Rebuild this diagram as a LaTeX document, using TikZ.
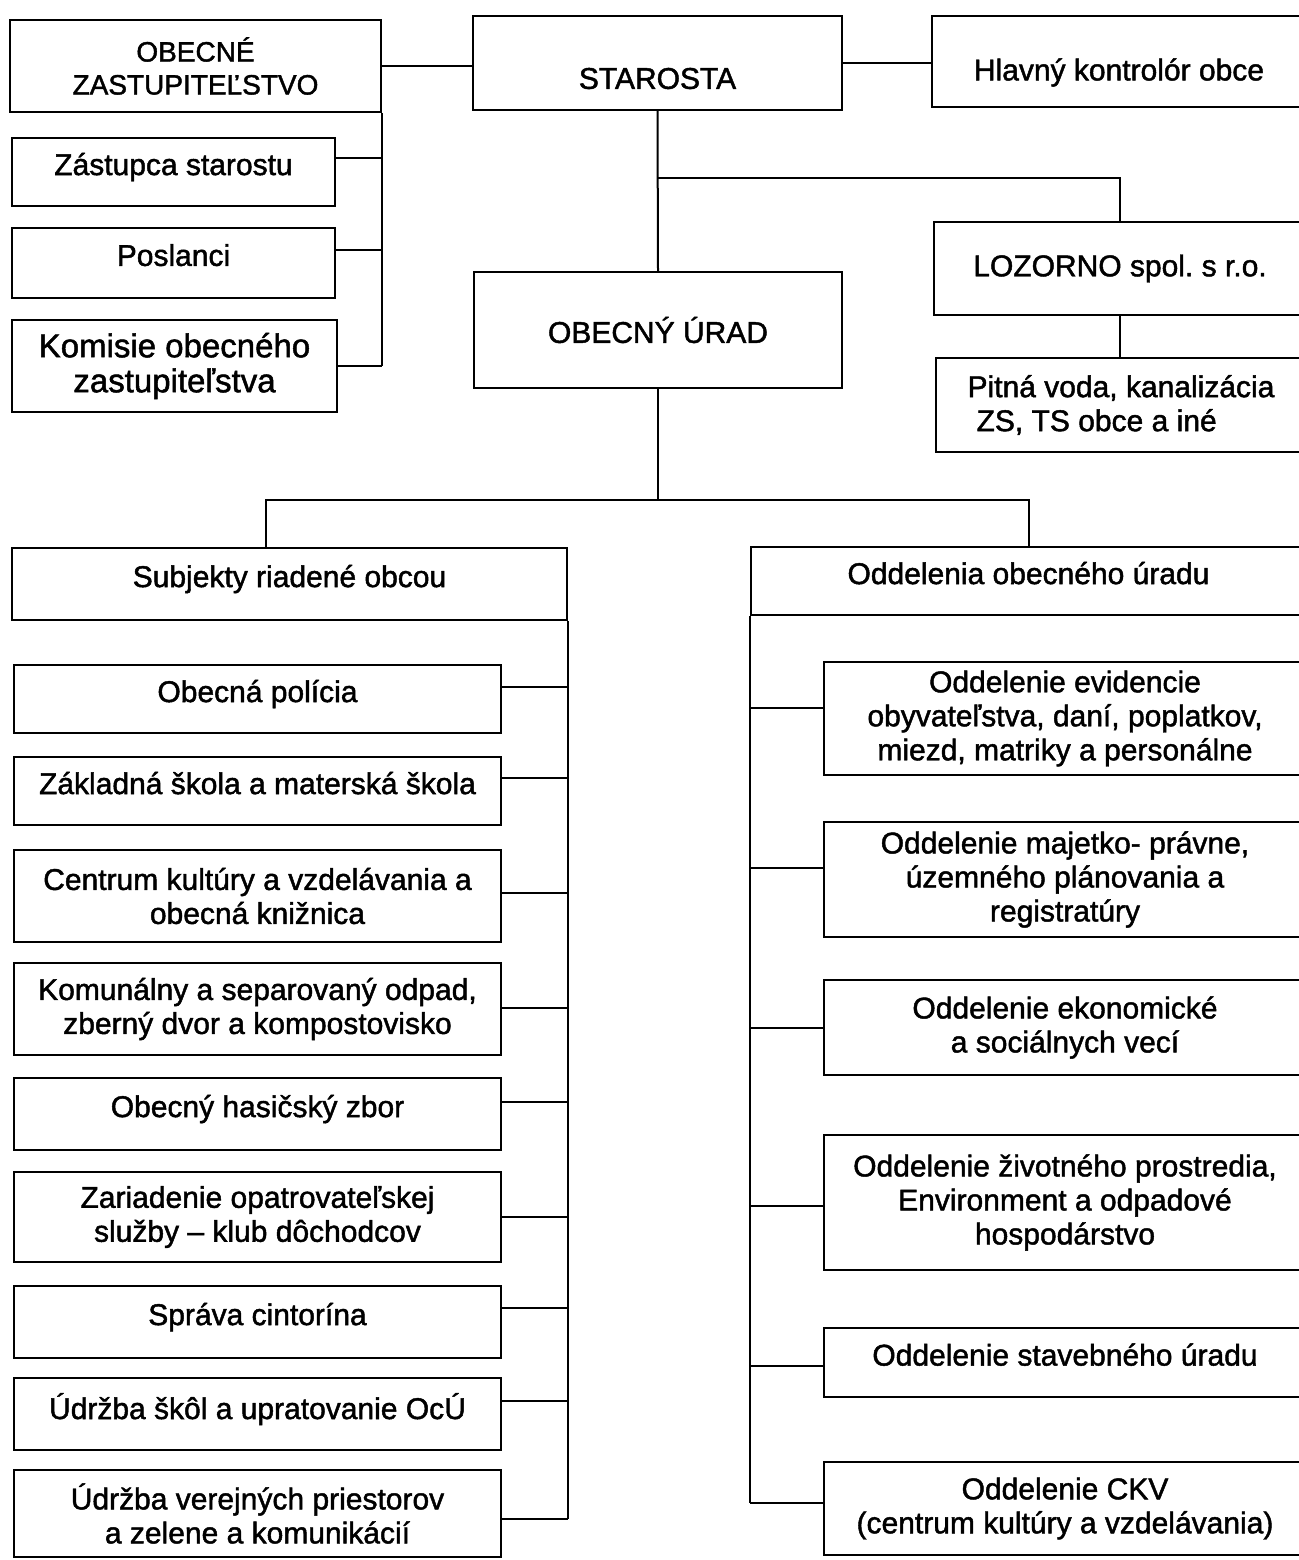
\documentclass[tikz,border=0pt]{standalone}
\usepackage{fontspec}
\setmainfont{Liberation Sans}[FakeBold=1.5]
\usetikzlibrary{positioning}

\begin{document}
\begin{tikzpicture}[x=1pt, y=-1pt,
    box/.style={draw, line width=2pt, inner sep=0pt, align=center,
                font=\fontsize{30}{34}\selectfont},
    lift/.style={text depth=16pt},
    wire/.style={line width=2pt}
  ]
    \useasboundingbox (0,0) rectangle (1298,1560);

    % top level
    \node[box, minimum width=371pt, minimum height=92pt,
          font=\fontsize{28}{33}\selectfont] (zast) at (195.5,66) {OBECNÉ\\ZASTUPITEĽSTVO};
    \node[box, minimum width=369pt, minimum height=94pt, text height=52pt] (star) at (657.5,63) {STAROSTA};
    \node[box, minimum width=374pt, minimum height=91pt, text height=44pt] (kontr) at (1119,61.5) {Hlavný kontrolór obce};

    \node[box, lift, minimum width=323pt, minimum height=68pt] (zast1) at (173.5,172) {Zástupca starostu};
    \node[box, lift, minimum width=323pt, minimum height=70pt] (posl) at (173.5,263) {Poslanci};
    \node[box, minimum width=325pt, minimum height=92pt,
          font=\fontsize{33}{35}\selectfont] (komis) at (174.5,366) {Komisie obecného\\zastupiteľstva};

    \node[box, minimum width=368pt, minimum height=116pt] (urad) at (658,330) {OBECNÝ ÚRAD};
    \node[box, minimum width=372pt, minimum height=93pt] (lozor) at (1120,268.5) {LOZORNO spol.\ s r.o.};
    \node[box, minimum width=370pt, minimum height=94pt, align=left] (pitna) at (1121,405)
      {Pitná voda, kanalizácia\\\hspace*{9pt}ZS, TS obce a iné};

    % two branches
    \node[box, lift, minimum width=555pt, minimum height=72pt] (subj) at (289.5,584) {Subjekty riadené obcou};
    \node[box, lift, minimum width=555pt, minimum height=68pt] (oddel) at (1028.5,581) {Oddelenia obecného úradu};

    \node[box, lift, minimum width=487pt, minimum height=68pt] (pol) at (257.5,699) {Obecná polícia};
    \node[box, lift, minimum width=487pt, minimum height=68pt] (zs) at (257.5,791) {Základná škola a materská škola};
    \node[box, minimum width=487pt, minimum height=92pt] (kniz) at (257.5,896) {Centrum kultúry a vzdelávania a\\obecná knižnica};
    \node[box, minimum width=487pt, minimum height=92pt] (odpad) at (257.5,1009) {Komunálny a separovaný odpad,\\zberný dvor a kompostovisko};
    \node[box, lift, minimum width=487pt, minimum height=72pt] (hasic) at (257.5,1114) {Obecný hasičský zbor};
    \node[box, minimum width=487pt, minimum height=90pt] (zopat) at (257.5,1217) {Zariadenie opatrovateľskej\\služby – klub dôchodcov};
    \node[box, lift, minimum width=487pt, minimum height=72pt] (cint) at (257.5,1322) {Správa cintorína};
    \node[box, lift, minimum width=487pt, minimum height=72pt] (udrs) at (257.5,1414) {Údržba škôl a upratovanie OcÚ};
    \node[box, minimum width=487pt, minimum height=87pt] (udrv) at (257.5,1513.5) {Údržba verejných priestorov\\a zelene a komunikácií};

    \node[box, minimum width=482pt, minimum height=113pt] (evid) at (1065,718.5)
      {Oddelenie evidencie\\obyvateľstva, daní, poplatkov,\\miezd, matriky a personálne};
    \node[box, minimum width=482pt, minimum height=115pt] (majet) at (1065,879.5)
      {Oddelenie majetko- právne,\\územného plánovania a\\registratúry};
    \node[box, minimum width=482pt, minimum height=95pt] (ekon) at (1065,1027.5)
      {Oddelenie ekonomické\\a sociálnych vecí};
    \node[box, minimum width=482pt, minimum height=135pt] (zivot) at (1065,1202.5)
      {Oddelenie životného prostredia,\\Environment a odpadové\\hospodárstvo};
    \node[box, lift, minimum width=482pt, minimum height=69pt] (stav) at (1065,1362.5) {Oddelenie stavebného úradu};
    \node[box, minimum width=482pt, minimum height=93pt] (ckv) at (1065,1508.5)
      {Oddelenie CKV\\(centrum kultúry a vzdelávania)};

    % connectors
    \draw[wire] (zast.east) -- (zast.east -| star.west);
    \draw[wire] (star.east) -- (star.east -| kontr.west);
    \draw[wire] (zast.south east) -- (zast.east |- komis.east);
    \foreach \n/\d in {zast1/14, posl/13, komis/0}
      \draw[wire] ([yshift=\d pt]\n.east) -- ([yshift=\d pt]\n.east -| zast.east);

    \draw[wire] (star.south) -- (urad.north);
    \coordinate (fork1) at (658,178);
    \draw[wire] (fork1) -| (lozor.north);
    \draw[wire] (lozor.south) -- (lozor.south |- pitna.north);

    \coordinate (fork2) at (266,500);
    \draw[wire] (urad.south) -- (urad.south |- fork2);
    \draw[wire] (fork2 |- subj.north) -- (fork2) -| (oddel.north);

    \draw[wire] (subj.south east) -- ([yshift=-5pt]subj.east |- udrv.east);
    \foreach \n/\d in {pol/12, zs/13, kniz/3, odpad/1, hasic/12,
                       zopat/0, cint/14, udrs/13, udrv/-5}
      \draw[wire] ([yshift=\d pt]\n.east) -- ([yshift=\d pt]\n.east -| subj.east);

    \draw[wire] (oddel.south west) -- ([yshift=6pt]oddel.west |- ckv.west);
    \foreach \n/\d in {evid/11, majet/12, ekon/0, zivot/-3, stav/-3, ckv/6}
      \draw[wire] ([yshift=\d pt]\n.west) -- ([yshift=\d pt]\n.west -| oddel.west);
\end{tikzpicture}
\end{document}
